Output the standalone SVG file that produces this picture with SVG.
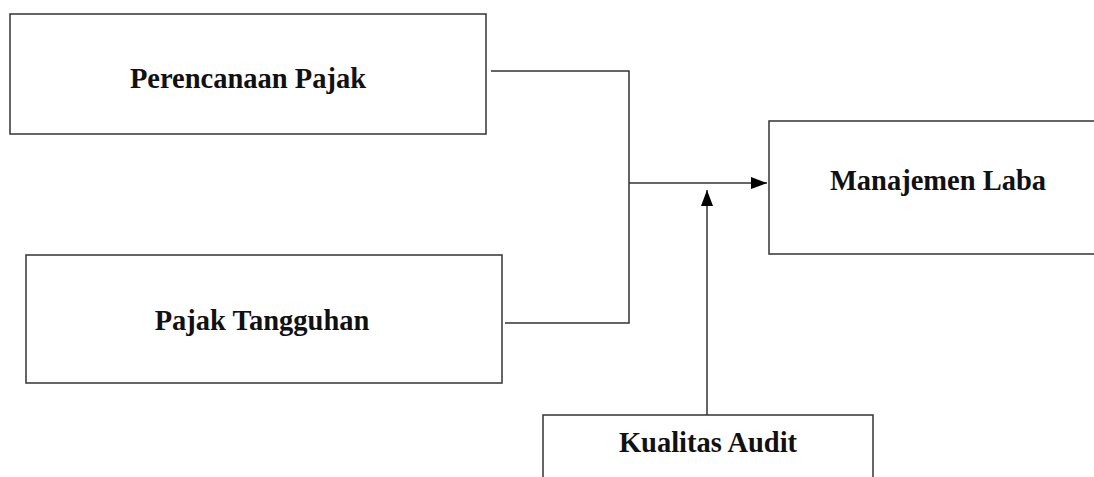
<svg xmlns="http://www.w3.org/2000/svg" width="1094" height="477" viewBox="0 0 1094 477">
<style>
.box{fill:#fff;stroke:#333;stroke-width:1.5}
.lbl{font-family:"Liberation Serif",serif;font-weight:bold;font-size:28.5px;fill:#111;text-anchor:middle}
.con{fill:none;stroke:#333;stroke-width:1.5}
</style>
<defs>
<marker id="ah2" viewBox="0 0 16 12" refX="16" refY="6" markerWidth="16" markerHeight="12" markerUnits="userSpaceOnUse" orient="auto">
<path d="M0,0 L16,6 L0,12 Z" fill="#000"/>
</marker>
</defs>
<rect width="1094" height="477" fill="#fff"/>
<g id="connectors">
<polyline class="con" points="491,71 629,71 629,323 505,323"/>
<line class="con" x1="629" y1="183" x2="767" y2="183" marker-end="url(#ah2)"/>
<line class="con" x1="707" y1="415" x2="707" y2="190" marker-end="url(#ah2)"/>
</g>
<g id="perencanaan">
<rect class="box" x="10" y="14" width="476" height="120"/>
<text class="lbl" x="248" y="88">Perencanaan Pajak</text>
</g>
<g id="pajak">
<rect class="box" x="26" y="255" width="476" height="128"/>
<text class="lbl" x="262" y="330">Pajak Tangguhan</text>
</g>
<g id="manajemen">
<rect class="box" x="769" y="121" width="340" height="133"/>
<text class="lbl" x="938" y="190">Manajemen Laba</text>
</g>
<g id="kualitas">
<rect class="box" x="543" y="415" width="330" height="80"/>
<text class="lbl" x="708" y="452">Kualitas Audit</text>
</g>
</svg>
